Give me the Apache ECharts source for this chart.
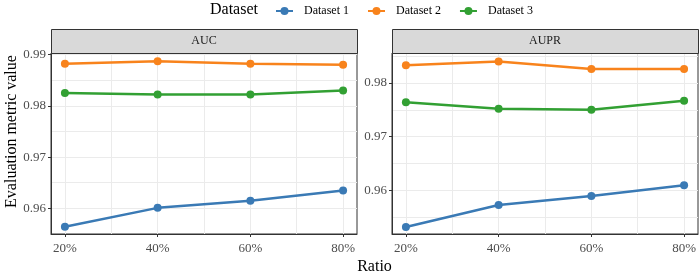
<!DOCTYPE html>
<html>
<head>
<meta charset="utf-8">
<script src="https://cdn.jsdelivr.net/npm/echarts@6/dist/echarts.min.js"></script>
<style>
  html, body { margin: 0; padding: 0; background: #fff; }
  #chart { width: 700px; height: 274px; }
</style>
</head>
<body>
<div id="chart"></div>
<script>
// values
const ratios = [0.2, 0.4, 0.6, 0.8];
const seriesNames = ["Dataset 1", "Dataset 2", "Dataset 3"];
const panelNames = ["AUC", "AUPR"];

const aucDataset1 = [0.9564, 0.9601, 0.9615, 0.9635];
const aucDataset2 = [0.9882, 0.9887, 0.9882, 0.9880];
const aucDataset3 = [0.9825, 0.9822, 0.9822, 0.9830];

const auprDataset1 = [0.9531, 0.9572, 0.9589, 0.9609];
const auprDataset2 = [0.9833, 0.9840, 0.9826, 0.9826];
const auprDataset3 = [0.9764, 0.9752, 0.9750, 0.9767];

const aucTicks = [0.96, 0.97, 0.98, 0.99];
const auprTicks = [0.96, 0.97, 0.98];
const xTicks = [0.2, 0.4, 0.6, 0.8];

const aucRange = [0.955, 0.9903];
const auprRange = [0.9518, 0.9856];
const xRange = [0.17, 0.83];

const COLORS = ["#3a7ab5", "#f8831c", "#32a033"];
const FONT = "Liberation Serif";
const GRID_COLOR = "#ebebeb";
const INK = "#333333";

const panels = [
  { values: [aucDataset1, aucDataset2, aucDataset3], ticks: aucTicks, range: aucRange, left: 51 },
  { values: [auprDataset1, auprDataset2, auprDataset3], ticks: auprTicks, range: auprRange, left: 392 },
];
const PANEL_W = 306, PANEL_TOP = 53, PANEL_H = 181, STRIP_H = 24;

const chart = echarts.init(document.getElementById("chart"), null, { renderer: "canvas" });

// hidden axes that only draw the major + minor grid lines
const gridLineAxis = (i, range) => ({
  type: "value",
  gridIndex: i,
  min: range[0],
  max: range[1],
  splitNumber: 7,
  axisLine: { show: false },
  axisTick: { show: false },
  axisLabel: { show: false },
  splitLine: {
    show: true,
    showMinLine: false,
    showMaxLine: false,
    lineStyle: { color: GRID_COLOR, width: 1 },
  },
  z: 0,
});

const option = {
  animation: false,
  textStyle: { fontFamily: FONT },
  title: {
    text: "Dataset",
    left: 205,
    top: -3,
    textStyle: { fontFamily: FONT, fontSize: 16, fontWeight: "normal", color: "#000" },
  },
  legend: {
    data: seriesNames,
    left: 270,
    top: 0,
    itemWidth: 17,
    itemHeight: 10,
    itemGap: 18,
    textStyle: { fontFamily: FONT, fontSize: 12, color: "#000", padding: [0, 0, 0, 6] },
  },
  grid: panels.map((p) => ({
    left: p.left,
    top: PANEL_TOP,
    width: PANEL_W,
    height: PANEL_H,
    show: true,
    borderColor: INK,
    borderWidth: 1,
    backgroundColor: "#fff",
  })),
  xAxis: [
    ...panels.map((p, i) => ({
      type: "value",
      gridIndex: i,
      min: xRange[0],
      max: xRange[1],
      splitNumber: 7,
      axisLine: { show: true, lineStyle: { color: INK, width: 1 } },
      axisTick: { show: true, length: 3, lineStyle: { color: INK }, customValues: xTicks },
      axisLabel: {
        customValues: xTicks,
        margin: 8,
        fontFamily: FONT,
        fontSize: 13,
        color: "#4d4d4d",
        formatter: (v) => Math.round(v * 100) + "%",
      },
      splitLine: { show: false },
      z: 2,
    })),
    ...panels.map((p, i) => gridLineAxis(i, xRange)),
  ],
  yAxis: [
    ...panels.map((p, i) => ({
      type: "value",
      gridIndex: i,
      min: p.range[0],
      max: p.range[1],
      splitNumber: 7,
      axisLine: { show: true, lineStyle: { color: INK, width: 1 } },
      axisTick: { show: true, length: 3, lineStyle: { color: INK }, customValues: p.ticks },
      axisLabel: {
        customValues: p.ticks,
        margin: 5,
        fontFamily: FONT,
        fontSize: 13,
        color: "#4d4d4d",
        formatter: (v) => v.toFixed(2),
      },
      splitLine: { show: false },
      z: 2,
    })),
    ...panels.map((p, i) => gridLineAxis(i, p.range)),
  ],
  graphic: [
    ...panels.flatMap((p, i) => [
      {
        type: "rect",
        shape: { x: p.left + 0.5, y: PANEL_TOP - STRIP_H + 0.5, width: PANEL_W, height: STRIP_H },
        style: { fill: "#d9d9d9", stroke: INK, lineWidth: 1 },
        z: 10,
      },
      {
        type: "text",
        x: p.left + PANEL_W / 2,
        y: PANEL_TOP - STRIP_H / 2,
        style: {
          text: panelNames[i],
          fill: "#1a1a1a",
          font: "12px '" + FONT + "'",
          textAlign: "center",
          textVerticalAlign: "middle",
        },
        z: 11,
      },
    ]),
    {
      // y title is centred over panel + strip, as in the facetted original
      type: "text",
      x: 12,
      y: PANEL_TOP - STRIP_H + (PANEL_H + STRIP_H) / 2,
      rotation: Math.PI / 2,
      style: {
        text: "Evaluation metric value",
        fill: "#000",
        font: "16px '" + FONT + "'",
        textAlign: "center",
        textVerticalAlign: "middle",
      },
    },
    {
      type: "text",
      x: (panels[0].left + panels[1].left + PANEL_W) / 2,
      y: 267,
      style: {
        text: "Ratio",
        fill: "#000",
        font: "16px '" + FONT + "'",
        textAlign: "center",
        textVerticalAlign: "middle",
      },
    },
  ],
  series: panels.flatMap((p, i) =>
    p.values.map((vals, k) => ({
      name: seriesNames[k],
      type: "line",
      xAxisIndex: i,
      yAxisIndex: i,
      data: ratios.map((r, j) => [r, vals[j]]),
      symbol: "circle",
      symbolSize: 8,
      lineStyle: { width: 2.5, color: COLORS[k] },
      itemStyle: { color: COLORS[k] },
      z: 3,
    }))
  ),
};

chart.setOption(option);
</script>
</body>
</html>
